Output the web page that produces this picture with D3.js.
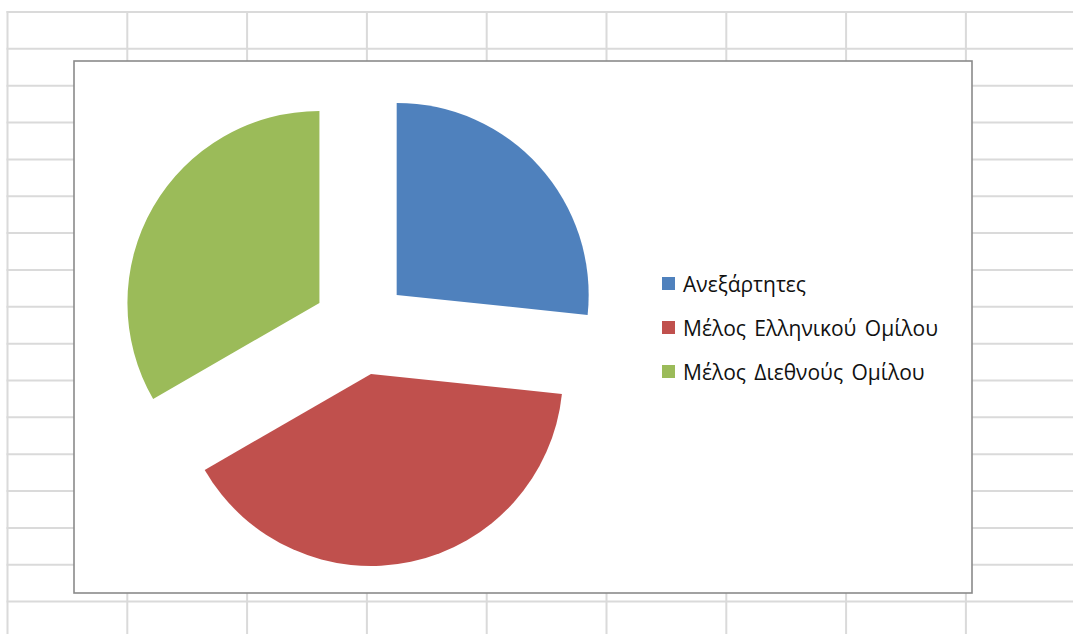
<!DOCTYPE html>
<html>
<head>
<meta charset="utf-8">
<script src="https://cdn.jsdelivr.net/npm/d3@7"></script>
<style>
  html, body { margin: 0; padding: 0; background: #ffffff; }
  svg { display: block; }
</style>
</head>
<body>
<svg id="chart" width="1073" height="634"></svg>
<script>
// Slice categories and their values (clockwise from 12 o'clock)
const categories = ["Ανεξάρτητες", "Μέλος Ελληνικού Ομίλου", "Μέλος Διεθνούς Ομίλου"];
const values = [4, 6, 5];
const colors = ["#4F81BD", "#C0504D", "#9BBB59"];

const W = 1073, H = 634;
const svg = d3.select("#chart");

// ---- worksheet cell grid behind the chart ----
const gridTop = 12, gridLeft = 7.5;
const colWidth = 119.8, rowHeight = 36.85;
const grid = svg.append("g").attr("stroke", "#dadada").attr("stroke-width", 2);
d3.range(gridLeft, W, colWidth).forEach(x => {
  grid.append("line").attr("x1", x).attr("x2", x).attr("y1", gridTop - 1).attr("y2", H);
});
d3.range(gridTop, H, rowHeight).forEach(y => {
  grid.append("line").attr("x1", gridLeft - 1).attr("x2", W).attr("y1", y).attr("y2", y);
});

// ---- chart area ----
const area = { x: 74, y: 61, w: 898, h: 532 };
svg.append("rect")
  .attr("x", area.x).attr("y", area.y)
  .attr("width", area.w).attr("height", area.h)
  .attr("fill", "#ffffff")
  .attr("stroke", "#8a8a8a")
  .attr("stroke-width", 1.6);

// ---- exploded pie ----
const radius = 192;
const explode = 48;
const cx = area.x + 287;
const cy = area.y + area.h / 2;

const pie = d3.pie().sort(null).value(d => d.value);
const arc = d3.arc().innerRadius(0).outerRadius(radius);
const arcs = pie(categories.map((c, i) => ({ name: c, value: values[i], color: colors[i] })));

const pieG = svg.append("g").attr("transform", `translate(${cx},${cy})`);
pieG.selectAll("path")
  .data(arcs)
  .join("path")
  .attr("d", arc)
  .attr("fill", d => d.data.color)
  .attr("transform", d => {
    const mid = (d.startAngle + d.endAngle) / 2;
    return `translate(${explode * Math.sin(mid)},${-explode * Math.cos(mid)})`;
  });

// ---- legend ----
const legend = svg.append("g").attr("transform", "translate(662,283.5)");
const rowGap = 44;
const item = legend.selectAll("g")
  .data(arcs)
  .join("g")
  .attr("transform", (d, i) => `translate(0,${i * rowGap})`);
item.append("rect")
  .attr("x", 0).attr("y", -6.5)
  .attr("width", 13).attr("height", 13)
  .attr("fill", d => d.data.color);
item.append("text")
  .attr("x", 21).attr("y", 8.5)
  .attr("font-family", "'Open Sans', 'Noto Sans', sans-serif")
  .attr("font-size", 21)
  .attr("word-spacing", 3)
  .attr("fill", "#111111")
  .text(d => d.data.name);
</script>
</body>
</html>
